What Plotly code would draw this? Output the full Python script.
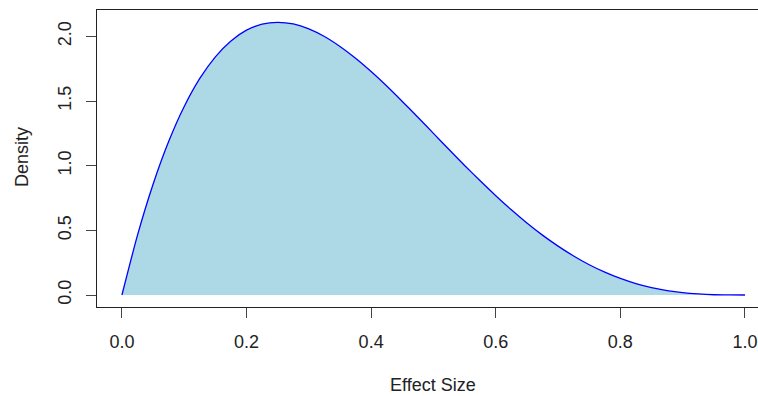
import plotly.graph_objects as go

effect_size = [0.0, 0.025, 0.05, 0.075, 0.1, 0.125, 0.15, 0.175, 0.2, 0.225, 0.25,
               0.275, 0.3, 0.325, 0.35, 0.375, 0.4, 0.425, 0.45, 0.475, 0.5,
               0.525, 0.55, 0.575, 0.6, 0.625, 0.65, 0.675, 0.7, 0.725, 0.75,
               0.775, 0.8, 0.825, 0.85, 0.875, 0.9, 0.925, 0.95, 0.975, 1.0]
density = [0.0, 0.463, 0.857, 1.187, 1.458, 1.675, 1.842, 1.965, 2.048, 2.095, 2.109,
           2.096, 2.058, 1.999, 1.922, 1.831, 1.728, 1.616, 1.497, 1.375, 1.25,
           1.125, 1.002, 0.883, 0.768, 0.659, 0.557, 0.463, 0.378, 0.302, 0.234,
           0.177, 0.128, 0.088, 0.057, 0.034, 0.018, 0.008, 0.002, 0.0003, 0.0]

x_ticks = [0.0, 0.2, 0.4, 0.6, 0.8, 1.0]
x_tick_labels = ["0.0", "0.2", "0.4", "0.6", "0.8", "1.0"]
y_ticks = [0.0, 0.5, 1.0, 1.5, 2.0]
y_tick_labels = ["0.0", "0.5", "1.0", "1.5", "2.0"]

FONT = "Liberation Sans, Arial, sans-serif"

fig = go.Figure()
fig.add_trace(go.Scatter(
    x=effect_size, y=density, mode="lines",
    line=dict(color="#0000FF", width=1.3, shape="spline", smoothing=0.6),
    fill="tozeroy", fillcolor="#ADD8E6", hoverinfo="skip", showlegend=False,
))

fig.update_layout(
    width=758, height=396,
    margin=dict(l=97, r=0, t=10, b=89, autoexpand=False),
    paper_bgcolor="white", plot_bgcolor="white",
    font=dict(family=FONT, size=18, color="#222222"),
    showlegend=False,
    xaxis=dict(
        range=[-0.04, 1.0209], tickvals=x_ticks, ticktext=x_tick_labels,
        showgrid=False, zeroline=False, showline=True, mirror=True,
        linecolor="#222222", linewidth=1.3, automargin=False,
        ticks="outside", ticklen=10, tickcolor="#444444", tickwidth=1.3,
        ticklabelstandoff=8, ticklabeloverflow="allow",
    ),
    yaxis=dict(
        range=[-0.0928, 2.204], tickvals=y_ticks, ticktext=y_tick_labels,
        showgrid=False, zeroline=False, showline=True, mirror=False,
        linecolor="#222222", linewidth=1.3, automargin=False,
        ticks="outside", ticklen=10, tickcolor="#444444", tickwidth=1.3,
        tickangle=-90, ticklabelstandoff=8,
    ),
    annotations=[
        dict(text="Effect Size", xref="paper", yref="paper",
             x=(433 - 97) / (758 - 97), y=-(385 - 307) / 297.0,
             xanchor="center", yanchor="middle", showarrow=False,
             font=dict(family=FONT, size=18, color="#222222")),
        dict(text="Density", xref="paper", yref="paper",
             x=-(97 - 22) / (758 - 97), y=(307 - 157) / 297.0,
             xanchor="center", yanchor="middle", showarrow=False, textangle=-90,
             font=dict(family=FONT, size=18, color="#222222")),
    ],
)

fig.write_html(
    "out.html",
    config={"displayModeBar": False},
    post_script="document.body.style.margin='0';document.body.style.overflow='hidden';",
)
